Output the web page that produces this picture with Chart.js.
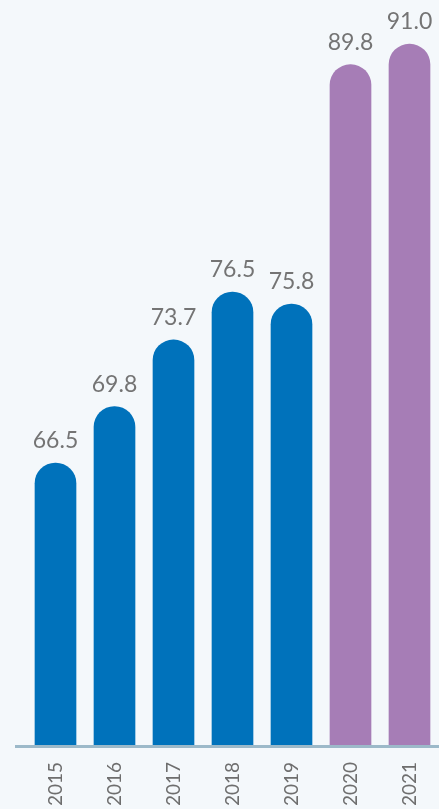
<!DOCTYPE html>
<html>
<head>
<meta charset="utf-8">
<script src="https://cdn.jsdelivr.net/npm/chart.js@4"></script>
<style>
html,body{margin:0;padding:0;background:#f4f8fb;}
#wrap{width:439px;height:809px;position:relative;}
</style>
</head>
<body>
<div id="wrap"><canvas id="c" width="439" height="809"></canvas></div>
<script>
const years = ['2015','2016','2017','2018','2019','2020','2021'];
const values = [66.5, 69.8, 73.7, 76.5, 75.8, 89.8, 91.0];
const valueLabels = ['66.5','69.8','73.7','76.5','75.8','89.8','91.0'];
const barColors = ['#0072bb','#0072bb','#0072bb','#0072bb','#0072bb','#a67db6','#a67db6'];

const valuePlugin = {
  id: 'valueLabels',
  afterDatasetsDraw(chart) {
    const ctx = chart.ctx;
    const meta = chart.getDatasetMeta(0);
    ctx.save();
    ctx.fillStyle = '#747474';
    ctx.font = '400 23px Lato';
    ctx.textAlign = 'center';
    ctx.textBaseline = 'alphabetic';
    meta.data.forEach((bar, i) => {
      ctx.fillText(valueLabels[i], bar.x, bar.y - 15);
    });
    ctx.restore();
  }
};
const baselinePlugin = {
  id: 'baseline',
  afterDatasetsDraw(chart) {
    const ctx = chart.ctx;
    const y = chart.scales.y.getPixelForValue(50);
    ctx.save();
    ctx.strokeStyle = '#9cb9c9';
    ctx.lineWidth = 3;
    ctx.beginPath();
    ctx.moveTo(15, y + 1.5);
    ctx.lineTo(chart.width, y + 1.5);
    ctx.stroke();
    ctx.restore();
  }
};

new Chart(document.getElementById('c'), {
  type: 'bar',
  data: {
    labels: years,
    datasets: [{
      data: values,
      backgroundColor: barColors,
      borderRadius: {topLeft: 21, topRight: 21, bottomLeft: 0, bottomRight: 0},
      borderSkipped: 'bottom',
      barThickness: 41
    }]
  },
  options: {
    responsive: false,
    animation: false,
    layout: {padding: {left: 26, right: 0, top: 10, bottom: 0}},
    plugins: {legend: {display: false}, tooltip: {enabled: false}},
    scales: {
      y: {display: false, min: 50, max: 93},
      x: {
        grid: {display: false, drawTicks: false},
        border: {display: false},
        ticks: {
          color: '#6e6e6e',
          font: {family: 'Lato', size: 19},
          minRotation: 90, maxRotation: 90,
          padding: 17
        },
        afterFit(scale) {
          scale.height = 64;
          scale.paddingLeft = 0;
          scale.paddingRight = 0;
        }
      }
    }
  },
  plugins: [valuePlugin, baselinePlugin]
});
</script>
</body>
</html>
